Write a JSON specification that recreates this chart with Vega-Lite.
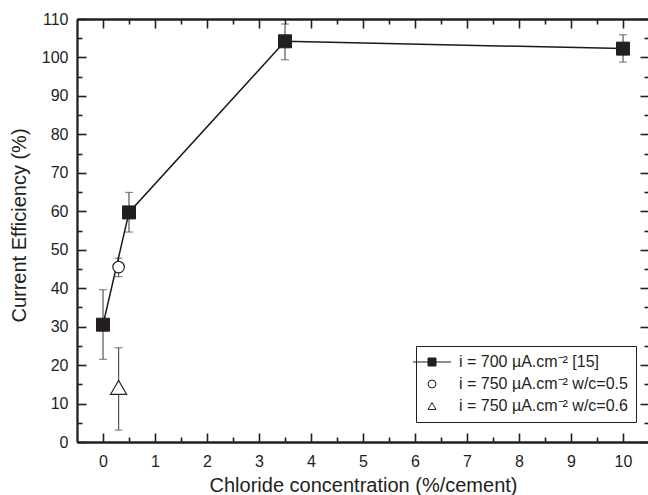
{
  "$schema": "https://vega.github.io/schema/vega-lite/v6.json",
  "autosize": {"type": "none"},
  "width": 572,
  "height": 423,
  "padding": {"left": 77, "top": 19, "right": 0, "bottom": 53},
  "background": "white",
  "config": {
    "view": {"stroke": null},
    "font": "Liberation Sans",
    "axis": {"grid": false, "domainColor": "#231f20", "tickColor": "#231f20", "labelColor": "#231f20", "titleColor": "#231f20", "domainWidth": 1.8, "tickWidth": 1.6, "labelFont": "Liberation Sans", "titleFont": "Liberation Sans", "labelFontSize": 16, "titleFontSize": 20, "titleFontWeight": "normal"}
  },
  "data": {
    "values": [
      {"series": "i = 700 µA.cm⁻² [15]", "chloride": 0, "eff": 30.5, "lo": 21.5, "hi": 39.6},
      {"series": "i = 700 µA.cm⁻² [15]", "chloride": 0.5, "eff": 59.7, "lo": 54.6, "hi": 64.9},
      {"series": "i = 700 µA.cm⁻² [15]", "chloride": 3.5, "eff": 104.2, "lo": 99.4, "hi": 108.7},
      {"series": "i = 700 µA.cm⁻² [15]", "chloride": 10, "eff": 102.3, "lo": 98.8, "hi": 105.9},
      {"series": "i = 750 µA.cm⁻² w/c=0.5", "chloride": 0.3, "eff": 45.5, "lo": 43.0, "hi": 47.8},
      {"series": "i = 750 µA.cm⁻² w/c=0.6", "chloride": 0.3, "eff": 14.2, "lo": 3.1, "hi": 24.5}
    ]
  },
  "resolve": {"axis": {"x": "independent", "y": "independent"}},
  "layer": [
    {
      "mark": {"type": "rule", "color": "#555555", "strokeWidth": 1.2},
      "encoding": {
        "x": {"field": "chloride", "type": "quantitative", "scale": {"domain": [-0.5, 10.5], "nice": false, "zero": false},
          "axis": {"orient": "bottom", "values": [0,1,2,3,4,5,6,7,8,9,10], "tickSize": -9, "labelPadding": 20, "title": "Chloride concentration (%/cement)", "titlePadding": 6}},
        "y": {"field": "lo", "type": "quantitative", "scale": {"domain": [0, 110], "nice": false},
          "axis": {"orient": "left", "values": [0,10,20,30,40,50,60,70,80,90,100,110], "tickSize": -9, "labelPadding": 18, "title": "Current Efficiency (%)", "titlePadding": 12, "titleY": 206}},
        "y2": {"field": "hi"}
      }
    },
    {
      "mark": {"type": "tick", "orient": "horizontal", "color": "#555555", "size": 8, "thickness": 1.2},
      "encoding": {
        "x": {"field": "chloride", "type": "quantitative",
          "axis": {"orient": "top", "values": [0,1,2,3,4,5,6,7,8,9,10], "tickSize": -9, "labels": false, "title": null}},
        "y": {"field": "lo", "type": "quantitative",
          "axis": {"orient": "right", "values": [0,10,20,30,40,50,60,70,80,90,100,110], "tickSize": -9, "labels": false, "title": null}}
      }
    },
    {
      "mark": {"type": "tick", "orient": "horizontal", "color": "#555555", "size": 8, "thickness": 1.2},
      "encoding": {
        "x": {"field": "chloride", "type": "quantitative",
          "axis": {"orient": "bottom", "values": [0.5,1.5,2.5,3.5,4.5,5.5,6.5,7.5,8.5,9.5], "tickSize": -5, "labels": false, "title": null}},
        "y": {"field": "hi", "type": "quantitative",
          "axis": {"orient": "left", "values": [5,15,25,35,45,55,65,75,85,95,105], "tickSize": -5, "labels": false, "title": null}}
      }
    },
    {
      "transform": [{"filter": "datum.series == 'i = 700 µA.cm⁻² [15]'"}],
      "mark": {"type": "line", "color": "#1a1a1a", "strokeWidth": 1.5},
      "encoding": {
        "x": {"field": "chloride", "type": "quantitative",
          "axis": {"orient": "top", "values": [0.5,1.5,2.5,3.5,4.5,5.5,6.5,7.5,8.5,9.5], "tickSize": -5, "labels": false, "title": null}},
        "y": {"field": "eff", "type": "quantitative",
          "axis": {"orient": "right", "values": [5,15,25,35,45,55,65,75,85,95,105], "tickSize": -5, "labels": false, "title": null}}
      }
    },
    {
      "transform": [{"filter": "datum.series == 'i = 700 µA.cm⁻² [15]'"}],
      "mark": {"type": "point", "shape": "square", "size": 169, "filled": true, "fill": "#231f20", "stroke": "#231f20", "strokeWidth": 1, "opacity": 1},
      "encoding": {
        "x": {"field": "chloride", "type": "quantitative", "axis": null},
        "y": {"field": "eff", "type": "quantitative", "axis": null}
      }
    },
    {
      "transform": [{"filter": "datum.series == 'i = 750 µA.cm⁻² w/c=0.5'"}],
      "mark": {"type": "point", "shape": "circle", "size": 133, "filled": true, "fill": "white", "stroke": "#231f20", "strokeWidth": 1.2, "opacity": 1},
      "encoding": {
        "x": {"field": "chloride", "type": "quantitative", "axis": null},
        "y": {"field": "eff", "type": "quantitative", "axis": null}
      }
    },
    {
      "transform": [{"filter": "datum.series == 'i = 750 µA.cm⁻² w/c=0.6'"}],
      "mark": {"type": "point", "shape": "triangle-up", "size": 256, "filled": true, "fill": "white", "stroke": "#231f20", "strokeWidth": 1.2, "opacity": 1},
      "encoding": {
        "x": {"field": "chloride", "type": "quantitative", "axis": null},
        "y": {"field": "eff", "type": "quantitative", "axis": null}
      }
    },
    {
      "transform": [{"filter": "false"}],
      "mark": {"type": "point", "filled": true, "stroke": "#231f20", "strokeWidth": 1, "opacity": 1},
      "encoding": {
        "x": {"field": "chloride", "type": "quantitative", "axis": null},
        "y": {"field": "eff", "type": "quantitative", "axis": null},
        "shape": {"field": "series", "type": "nominal",
          "scale": {"domain": ["i = 700 µA.cm⁻² [15]", "i = 750 µA.cm⁻² w/c=0.5", "i = 750 µA.cm⁻² w/c=0.6"], "range": ["M-4.75,0H-1M1,0H4.75M-1,-1H1V1H-1Z", "circle", "triangle-up"]},
          "legend": {"title": null, "orient": "none", "legendX": 339, "legendY": 327, "strokeColor": "#231f20", "fillColor": "white", "padding": 8, "symbolSize": 64, "symbolStrokeWidth": 1, "labelFontSize": 16, "labelFont": "Liberation Sans", "labelColor": "#231f20", "labelOffset": 19, "rowPadding": 6, "labelLimit": 300}},
        "fill": {"field": "series", "type": "nominal",
          "scale": {"domain": ["i = 700 µA.cm⁻² [15]", "i = 750 µA.cm⁻² w/c=0.5", "i = 750 µA.cm⁻² w/c=0.6"], "range": ["#231f20", "white", "white"]},
          "legend": {"title": null, "orient": "none", "legendX": 339, "legendY": 327, "strokeColor": "#231f20", "fillColor": "white", "padding": 8, "symbolSize": 64, "symbolStrokeWidth": 1, "labelFontSize": 16, "labelFont": "Liberation Sans", "labelColor": "#231f20", "labelOffset": 19, "rowPadding": 6, "labelLimit": 300}}
      }
    }
  ]
}
